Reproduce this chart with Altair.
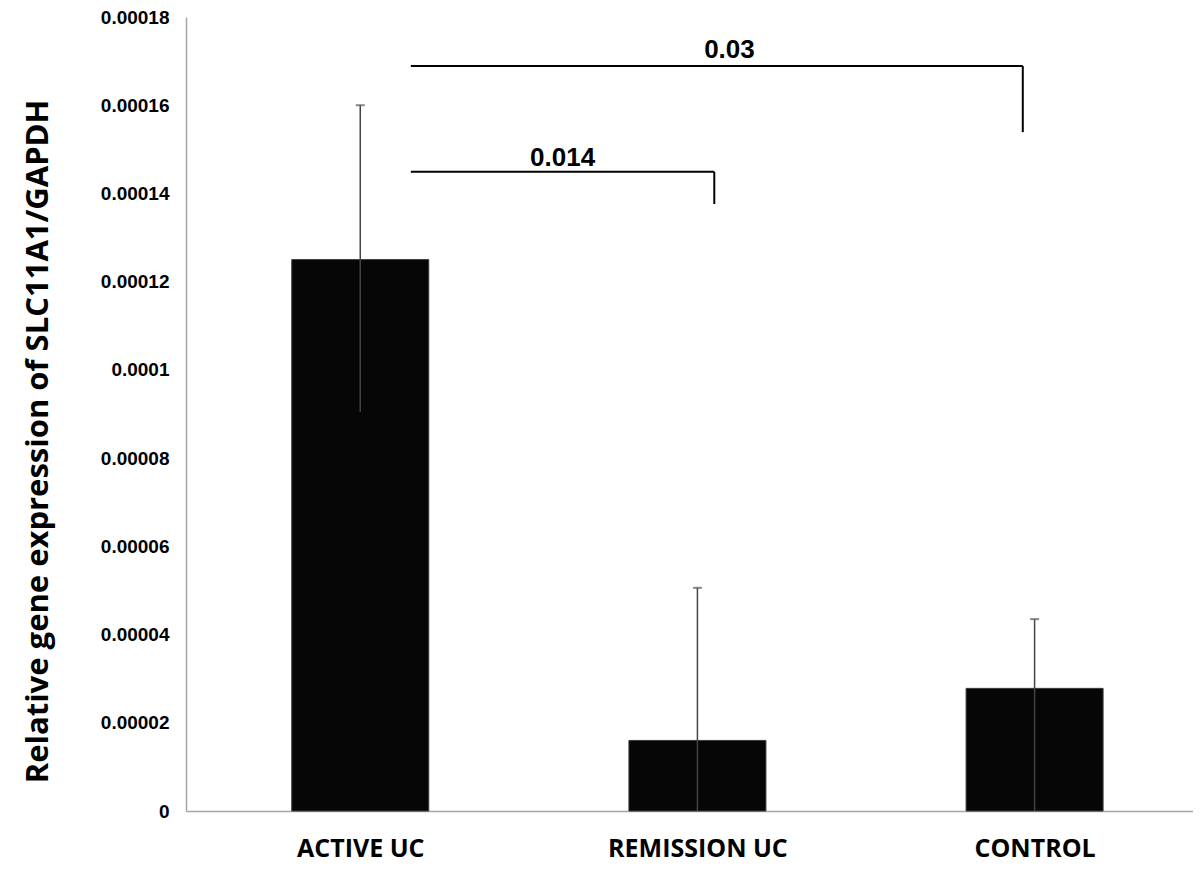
import altair as alt
import pandas as pd

# ---- data ----
groups = ["ACTIVE UC", "REMISSION UC", "CONTROL"]
group_pos = [0, 1, 2]
means = [0.000125, 0.000016, 0.0000278]
err_upper = [0.00016, 0.0000506, 0.0000435]
err_lower = [0.0000905, 0.0, 0.0]

y_ticks = [0, 0.00002, 0.00004, 0.00006, 0.00008, 0.0001, 0.00012, 0.00014, 0.00016, 0.00018]

# significance brackets (positions in category units / data units)
p_labels = ["0.014", "0.03"]
br_x_start = [0.15, 0.15]
br_x_end = [1.05, 1.965]
br_y = [0.0001449, 0.0001689]
br_drop = [0.0001376, 0.0001539]
lab_x = [0.60, 1.095]
lab_y = [0.0001462, 0.0001706]

bars = pd.DataFrame({"group": groups, "pos": group_pos, "mean": means,
                     "upper": err_upper, "lower": err_lower})
brackets = pd.DataFrame({"p": p_labels, "x0": br_x_start, "x1": br_x_end,
                         "y": br_y, "yd": br_drop, "lx": lab_x, "ly": lab_y})

x_scale = alt.Scale(domain=[-0.502, 2.455], nice=False, zero=False)
y_scale = alt.Scale(domain=[0, 0.00018], nice=False)

label_expr = "[" + ",".join("'" + g + "'" for g in groups) + "][datum.value]"

x_axis = alt.Axis(values=group_pos, labelExpr=label_expr, title=None, grid=False,
                  ticks=False, tickSize=0, labelFont="Open Sans", labelFontWeight="bold",
                  labelFontSize=25, labelColor="#000000", labelPadding=45,
                  labelBaseline="alphabetic", labelFlush=False,
                  domainColor="#a6a6a6", domainWidth=1.5)
y_axis = alt.Axis(values=y_ticks, labelExpr="format(datum.value, '.5~f')",
                  title="Relative gene expression of SLC11A1/GAPDH", grid=False,
                  ticks=False, tickSize=0, labelFont="Liberation Sans", labelFontWeight="bold",
                  labelFontSize=19, labelColor="#000000", labelPadding=17,
                  labelBaseline="middle", labelAlign="right",
                  domainColor="#a6a6a6", domainWidth=1.5,
                  titleFont="Open Sans", titleFontWeight="bold", titleFontSize=31,
                  titleColor="#000000", titleX=-139, titleY=424, titleAngle=270,
                  titleBaseline="alphabetic", titleAlign="center")

base = alt.Chart(bars)

bar_layer = base.mark_bar(size=137, orient="vertical", color="#060606",
                          stroke="#3a3a3a", strokeWidth=1).encode(
    x=alt.X("pos:Q", scale=x_scale, axis=x_axis),
    y=alt.Y("mean:Q", scale=y_scale, axis=y_axis),
)

err_layer = base.mark_rule(color="#444444", strokeWidth=1.5).encode(
    x=alt.X("pos:Q", scale=x_scale),
    y=alt.Y("lower:Q", scale=y_scale),
    y2="upper:Q",
)

cap_layer = base.mark_tick(orient="horizontal", size=9, thickness=2, color="#555555").encode(
    x=alt.X("pos:Q", scale=x_scale),
    y=alt.Y("upper:Q", scale=y_scale),
)

bb = alt.Chart(brackets)
h_layer = bb.mark_rule(color="#000000", strokeWidth=2).encode(
    x=alt.X("x0:Q", scale=x_scale), x2="x1:Q",
    y=alt.Y("y:Q", scale=y_scale),
)
v_layer = bb.mark_rule(color="#000000", strokeWidth=2).encode(
    x=alt.X("x1:Q", scale=x_scale),
    y=alt.Y("yd:Q", scale=y_scale), y2="y:Q",
)
t_layer = bb.mark_text(font="Liberation Sans", fontWeight="bold", fontSize=26,
                       color="#000000", align="center", baseline="alphabetic").encode(
    x=alt.X("lx:Q", scale=x_scale),
    y=alt.Y("ly:Q", scale=y_scale),
    text="p:N",
)

chart = alt.layer(bar_layer, err_layer, cap_layer, h_layer, v_layer, t_layer).properties(
    width=1007, height=794,
    autosize=alt.AutoSizeParams(type="none"),
    padding={"left": 178, "top": 9, "right": 0, "bottom": 54},
    background="#ffffff",
).configure_view(stroke=None)

chart.save("out.html", embed_options={"renderer": "svg", "actions": False})
